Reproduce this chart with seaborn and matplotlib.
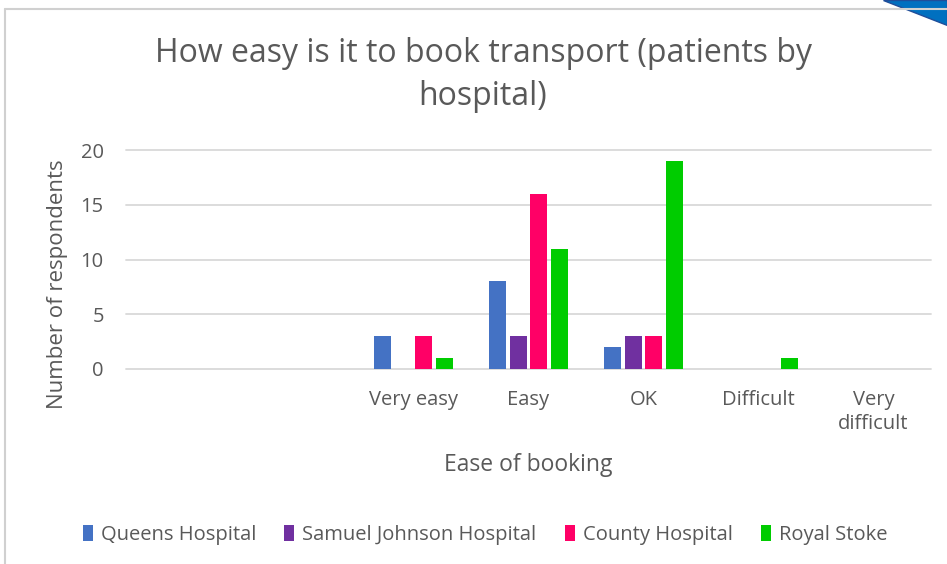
import pandas as pd
import seaborn as sns
import matplotlib.pyplot as plt
from matplotlib.patches import Patch, Polygon
from matplotlib.lines import Line2D

categories = ['', ' ', 'Very easy', 'Easy', 'OK', 'Difficult', 'Very\ndifficult']
hospitals = ['Queens Hospital', 'Samuel Johnson Hospital', 'County Hospital', 'Royal Stoke']
queens = [0, 0, 3, 8, 2, 0, 0]
samuel_johnson = [0, 0, 0, 3, 3, 0, 0]
county = [0, 0, 3, 16, 3, 0, 0]
royal_stoke = [0, 0, 1, 11, 19, 1, 0]
colors = ['#4472C4', '#7030A0', '#FF0066', '#00CC00']

rows = []
for name, vals in zip(hospitals, [queens, samuel_johnson, county, royal_stoke]):
    for cat, v in zip(categories, vals):
        rows.append({'category': cat, 'hospital': name, 'count': v})
df = pd.DataFrame(rows)

sns.set_style('white')
plt.rcParams['font.family'] = ['Open Sans', 'DejaVu Sans']
text_col = '#595959'

fig = plt.figure(figsize=(9.47, 5.64), dpi=100)
ax = fig.add_axes([126 / 947, 1 - 369 / 564, 805 / 947, 219 / 564])

sns.barplot(data=df, x='category', y='count', hue='hospital', order=categories,
            hue_order=hospitals, palette=colors, saturation=1, width=0.72, gap=0.18,
            linewidth=0, ax=ax, legend=False)

ax.set_xlim(-0.5, 6.5)
ax.set_ylim(0, 20)
ax.set_yticks([0, 5, 10, 15, 20])
ax.yaxis.grid(True, color='#D9D9D9', linewidth=1.3)
for gl in ax.get_ygridlines():
    gl.set_clip_on(False)
ax.set_axisbelow(True)
for s in ax.spines.values():
    s.set_visible(False)
ax.tick_params(axis='both', length=0, colors=text_col, labelsize=14.5)
ax.tick_params(axis='y', pad=16)
ax.tick_params(axis='x', pad=15)
for lbl in ax.get_xticklabels():
    lbl.set_linespacing(1.3)
ax.set_xlabel('')
ax.set_ylabel('')

fig.text(483 / 947, 1 - 75 / 564, 'How easy is it to book transport (patients by\nhospital)',
         ha='center', va='center', fontsize=23, color=text_col, linespacing=1.4)
fig.text(528 / 947, 1 - 465 / 564, 'Ease of booking', ha='center', va='center',
         fontsize=16.5, color=text_col)
fig.text(57 / 947, 1 - 284 / 564, 'Number of respondents', ha='center', va='center',
         rotation=90, fontsize=16, color=text_col)

handles = [Patch(facecolor=c, edgecolor='none') for c in colors]
fig.legend(handles, hospitals, loc='center', bbox_to_anchor=(485 / 947, 1 - 535 / 564),
           ncol=4, frameon=False, fontsize=14.5, handlelength=0.5, handleheight=0.8,
           handletextpad=0.4, columnspacing=1.4, labelcolor=text_col)

# chart frame and corner decoration
fig.add_artist(Line2D([5 / 947, 5 / 947], [0, 1 - 8.5 / 564], color='#D0D0D0', lw=1.5,
                      transform=fig.transFigure))
fig.add_artist(Line2D([5 / 947, 1], [1 - 8.5 / 564, 1 - 8.5 / 564], color='#D0D0D0', lw=1.5,
                      transform=fig.transFigure))
fig.add_artist(Polygon([(883 / 947, 1), (1, 1), (1, 1 - 25 / 564)], closed=True,
                       facecolor='#0070C0', edgecolor='#1F4E9A', lw=1,
                       transform=fig.transFigure))

fig.savefig('out.png', dpi=100)
